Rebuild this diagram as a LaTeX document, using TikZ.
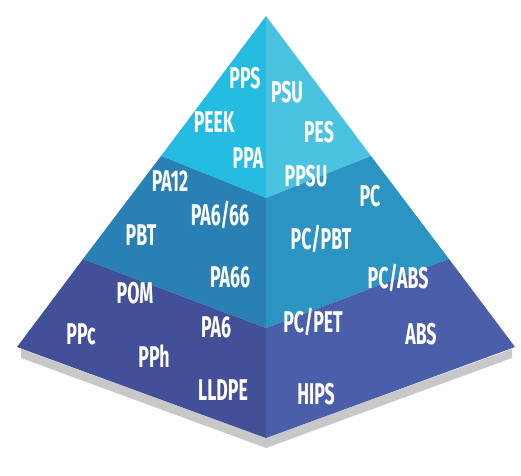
\documentclass[tikz,border=0pt]{standalone}
\usepackage{fontspec}
\setmainfont{Fira Sans}[FakeStretch=0.59]
\begin{document}
\begin{tikzpicture}[x=1pt,y=-1pt,
  lbl/.style={text=white,font=\fontsize{30}{32}\selectfont\bfseries,inner sep=0pt,anchor=center}]
\definecolor{tl}{RGB}{37,188,226}
\definecolor{tr}{RGB}{74,195,224}
\definecolor{ml}{RGB}{40,128,180}
\definecolor{mr}{RGB}{43,148,194}
\definecolor{bl}{RGB}{66,80,152}
\definecolor{br}{RGB}{74,94,170}
\definecolor{shd}{RGB}{200,200,200}
\useasboundingbox (0,0) rectangle (521,475);
% key points
\coordinate (A) at (266,16);
\coordinate (L) at (17,347);
\coordinate (R) at (515,347);
\coordinate (F) at (266,438);
\coordinate (L1) at (161,156);
\coordinate (C1) at (266,198);
\coordinate (R1) at (371,156);
\coordinate (L2) at (83,259);
\coordinate (C2) at (266,328);
\coordinate (R2) at (449,259);
% shadow
\fill[shd] (21,349) -- (21,358) -- (266,448) -- (512,358) -- (512,349) -- (F) -- cycle;
% faces
\fill[tl] (A) -- (L1) -- (C1) -- cycle;
\fill[tr] (A) -- (C1) -- (R1) -- cycle;
\fill[ml] (L1) -- (L2) -- (C2) -- (C1) -- cycle;
\fill[mr] (C1) -- (C2) -- (R2) -- (R1) -- cycle;
\fill[bl] (L2) -- (L) -- (F) -- (C2) -- cycle;
\fill[br] (C2) -- (F) -- (R) -- (R2) -- cycle;
% labels
\node[lbl] (pps) at (245,78) {PPS};
\node[lbl] (psu) at (287,92) {PSU};
\node[lbl] (peek) at (214,122) {PEEK};
\node[lbl] (pes) at (319,132) {PES};
\node[lbl] (ppa) at (248,158) {PPA};
\node[lbl] (ppsu) at (306,176) {PPSU};
\node[lbl] (pa12) at (170,181) {PA12};
\node[lbl] (pa666) at (220,215) {PA6/66};
\node[lbl] (pbt) at (141,235) {PBT};
\node[lbl] (pc) at (370,196) {PC};
\node[lbl] (pcpbt) at (321,239) {PC/PBT};
\node[lbl] (pcabs) at (398,278) {PC/ABS};
\node[lbl] (pa66) at (230,277) {PA66};
\node[lbl] (pom) at (135,293) {POM};
\node[lbl] (ppc) at (81,334) {PPc};
\node[lbl] (pph) at (154,356) {PPh};
\node[lbl] (pa6) at (216,327) {PA6};
\node[lbl] (pcpet) at (313,322) {PC/PET};
\node[lbl] (abs) at (421,334) {ABS};
\node[lbl] (lldpe) at (223,390) {LLDPE};
\node[lbl] (hips) at (316,394) {HIPS};
\end{tikzpicture}
\end{document}
